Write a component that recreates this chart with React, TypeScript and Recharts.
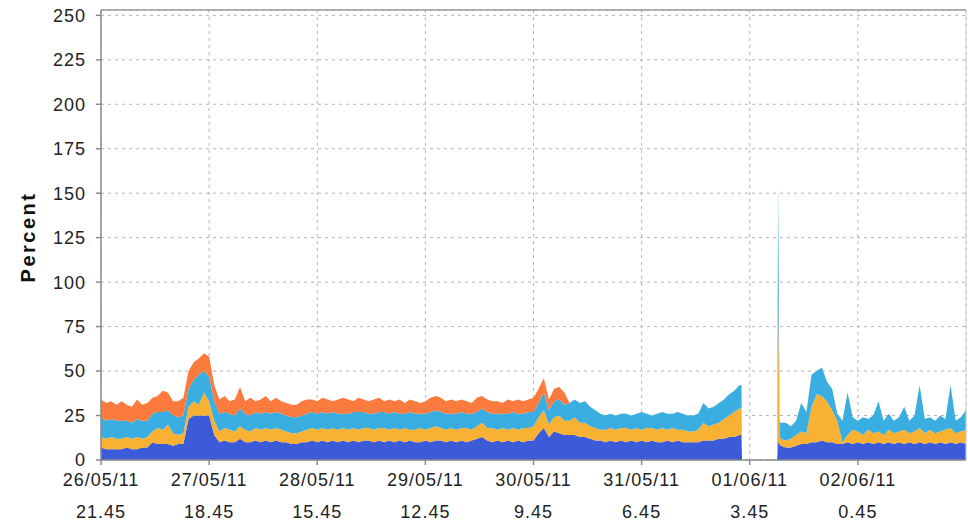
import { AreaChart, Area, XAxis, YAxis, CartesianGrid, ReferenceLine, Label } from 'recharts';

// hourly samples, first one at 26/05/11 21.45
const blueLoad = [
  7, 6, 6, 6, 6, 7, 6, 6, 7, 7, 10, 9, 9, 9, 8, 9, 9, 23, 25, 25,
  25, 25, 14, 10, 11, 10, 10, 12, 10, 10, 11, 10, 11, 10, 11, 10, 10, 9, 9, 10,
  10, 11, 10, 11, 10, 11, 10, 11, 10, 11, 10, 11, 11, 10, 11, 10, 11, 10, 11, 10,
  11, 10, 10, 11, 10, 11, 11, 10, 11, 10, 11, 10, 11, 12, 13, 11, 10, 11, 10, 11,
  10, 11, 10, 11, 11, 15, 18, 13, 16, 15, 14, 14, 14, 13, 13, 12, 11, 11, 10, 11,
  10, 11, 10, 11, 10, 11, 10, 11, 10, 10, 11, 10, 11, 10, 10, 10, 10, 11, 11, 11,
  12, 12, 13, 13, 14, 0, 0, 0, 0, 0, 0, 0, 8, 7, 7, 8, 9, 9, 10, 10,
  11, 10, 10, 9, 9, 10, 9, 10, 9, 10, 9, 10, 9, 10, 9, 10, 9, 10, 9, 10,
  9, 10, 9, 10, 9, 10, 9, 10, 9,
];
const yellowLoad = [
  6, 6, 7, 6, 6, 6, 6, 7, 5, 6, 6, 9, 8, 11, 7, 5, 6, 7, 8, 6,
  13, 8, 8, 6, 7, 7, 6, 7, 7, 6, 7, 7, 7, 7, 7, 7, 6, 6, 6, 6,
  7, 7, 7, 7, 7, 7, 7, 7, 7, 7, 7, 7, 7, 7, 7, 8, 6, 8, 6, 8,
  6, 7, 8, 6, 8, 8, 7, 7, 7, 7, 7, 8, 6, 7, 8, 7, 8, 6, 8, 6,
  8, 6, 8, 7, 8, 9, 10, 7, 8, 10, 8, 8, 10, 8, 8, 7, 7, 6, 7, 7,
  7, 7, 8, 6, 8, 6, 8, 7, 7, 8, 6, 8, 6, 7, 6, 6, 7, 10, 8, 9,
  9, 11, 12, 14, 15, 0, 0, 0, 0, 0, 0, 0, 4, 4, 5, 6, 7, 6, 20, 27,
  25, 23, 18, 13, 1, 4, 8, 6, 5, 7, 6, 6, 5, 7, 6, 6, 8, 5, 7, 8,
  6, 7, 6, 6, 8, 8, 6, 6, 8,
];
const cyanLoad = [
  11, 10, 10, 10, 10, 9, 9, 10, 10, 9, 10, 9, 10, 8, 10, 10, 10, 10, 12, 17,
  12, 14, 11, 10, 9, 9, 9, 10, 9, 9, 9, 9, 9, 9, 9, 9, 9, 9, 9, 9,
  9, 9, 9, 9, 9, 9, 9, 8, 9, 9, 10, 9, 8, 9, 9, 9, 9, 9, 9, 8,
  10, 9, 8, 9, 9, 9, 9, 9, 8, 9, 9, 8, 9, 8, 8, 9, 8, 9, 8, 9,
  9, 9, 8, 9, 8, 8, 10, 8, 9, 9, 9, 10, 10, 11, 12, 11, 10, 9, 8, 8,
  8, 8, 8, 8, 8, 10, 8, 7, 9, 9, 9, 8, 10, 9, 9, 9, 9, 11, 10, 10,
  11, 11, 12, 12, 13, 0, 0, 0, 0, 0, 0, 0, 9, 10, 7, 8, 16, 12, 18, 13,
  16, 11, 12, 4, 12, 24, 7, 6, 10, 6, 10, 17, 8, 9, 7, 8, 13, 7, 9, 24,
  8, 7, 7, 9, 6, 24, 7, 8, 11,
];
const orangeLoad = [
  10, 10, 10, 9, 11, 9, 9, 11, 9, 10, 9, 9, 12, 10, 8, 9, 10, 10, 10, 9,
  10, 11, 9, 8, 9, 7, 9, 12, 7, 10, 6, 8, 9, 7, 8, 7, 7, 7, 7, 8,
  8, 7, 7, 8, 8, 6, 8, 9, 8, 6, 8, 7, 7, 8, 8, 6, 8, 6, 8, 6,
  7, 7, 6, 7, 8, 8, 8, 7, 8, 7, 7, 7, 6, 8, 7, 7, 7, 7, 6, 8,
  6, 8, 7, 7, 8, 8, 8, 6, 7, 7, 7, 0, 0, 0, 0, 0, 0, 0, 0, 0,
  0, 0, 0, 0, 0, 0, 0, 0, 0, 0, 0, 0, 0, 0, 0, 0, 0, 0, 0, 0,
  0, 0, 0, 0, 0, 0, 0, 0, 0, 0, 0, 0, 0, 0, 0, 0, 0, 0, 0, 0,
  0, 0, 0, 0, 0, 0, 0, 0, 0, 0, 0, 0, 0, 0, 0, 0, 0, 0, 0, 0,
  0, 0, 0, 0, 0, 0, 0, 0, 0,
];

// extra samples at the edges of the outage on 01/06 and the restart spike
const edgeHours = [124.4, 124.5, 131.3, 131.5, 131.8];
const edgeBlue = [14, 0, 0, 10, 9];
const edgeYellow = [15, 0, 0, 85, 5];
const edgeCyan = [13, 0, 0, 60, 8];
const edgeOrange = [0, 0, 0, 0, 0];

const tickHours = [0, 21, 42, 63, 84, 105, 126, 147];
const tickDates = ['26/05/11', '27/05/11', '28/05/11', '29/05/11', '30/05/11', '31/05/11', '01/06/11', '02/06/11'];
const tickTimes = ['21.45', '18.45', '15.45', '12.45', '9.45', '6.45', '3.45', '0.45'];
const percentTicks = [0, 25, 50, 75, 100, 125, 150, 175, 200, 225, 250];

const hourlyRows = blueLoad.map((v, i) => ({
  h: i,
  blue: v,
  yellow: yellowLoad[i],
  cyan: cyanLoad[i],
  orange: orangeLoad[i],
}));
const edgeRows = edgeHours.map((h, i) => ({
  h,
  blue: edgeBlue[i],
  yellow: edgeYellow[i],
  cyan: edgeCyan[i],
  orange: edgeOrange[i],
}));
const chartData = [...hourlyRows, ...edgeRows].sort((a, b) => a.h - b.h);

const font = '"Liberation Sans", Arial, sans-serif';

function DateTick({ x, y, payload }: any) {
  const i = tickHours.indexOf(payload.value);
  return (
    <g transform={`translate(${x},${y})`}>
      <text x={0} y={0} dy={19} textAnchor="middle" fill="#222" fontSize={18} letterSpacing={1} fontFamily={font}>
        {tickDates[i]}
      </text>
      <text x={0} y={0} dy={51} textAnchor="middle" fill="#222" fontSize={18} letterSpacing={1} fontFamily={font}>
        {tickTimes[i]}
      </text>
    </g>
  );
}

export default function App() {
  return (
    <div style={{ width: 968, height: 524 }}>
      <style>{'body{margin:0;background:#fff}'}</style>
      <AreaChart
        width={968}
        height={524}
        data={chartData}
        margin={{ top: 10, right: 2, left: 0, bottom: 0 }}
      >
        <CartesianGrid stroke="#b4b4b4" strokeDasharray="3 4" />
        <XAxis
          dataKey="h"
          type="number"
          domain={[0, 168]}
          ticks={tickHours}
          height={64}
          tick={<DateTick />}
          tickSize={5}
          tickMargin={2}
          stroke="#8a8a8a"
          strokeWidth={1.5}
        />
        <YAxis
          domain={[0, 253]}
          ticks={percentTicks}
          width={101}
          tickSize={5}
          tickMargin={10}
          stroke="#8a8a8a"
          strokeWidth={1.5}
          allowDataOverflow
          tick={{ fill: '#222', fontSize: 18, fontFamily: font, letterSpacing: 1 }}
        >
          <Label
            content={() => (
              <text
                x={28}
                y={237}
                transform="rotate(-90 28 237)"
                textAnchor="middle"
                dominantBaseline="central"
                fill="#111"
                fontSize={20}
                fontWeight="bold"
                letterSpacing={2.5}
                fontFamily={font}
              >
                Percent
              </text>
            )}
          />
        </YAxis>
        <ReferenceLine y={253} stroke="#9a9a9a" strokeWidth={1.5} />
        <ReferenceLine x={168} stroke="#d0d0d0" />
        <Area type="linear" dataKey="blue" stackId="1" stroke="none" fill="#3b5bd8" fillOpacity={1} isAnimationActive={false} />
        <Area type="linear" dataKey="yellow" stackId="1" stroke="none" fill="#f8b133" fillOpacity={1} isAnimationActive={false} />
        <Area type="linear" dataKey="cyan" stackId="1" stroke="none" fill="#3aaee0" fillOpacity={1} isAnimationActive={false} />
        <Area type="linear" dataKey="orange" stackId="1" stroke="none" fill="#fb7a3d" fillOpacity={1} isAnimationActive={false} />
      </AreaChart>
    </div>
  );
}
